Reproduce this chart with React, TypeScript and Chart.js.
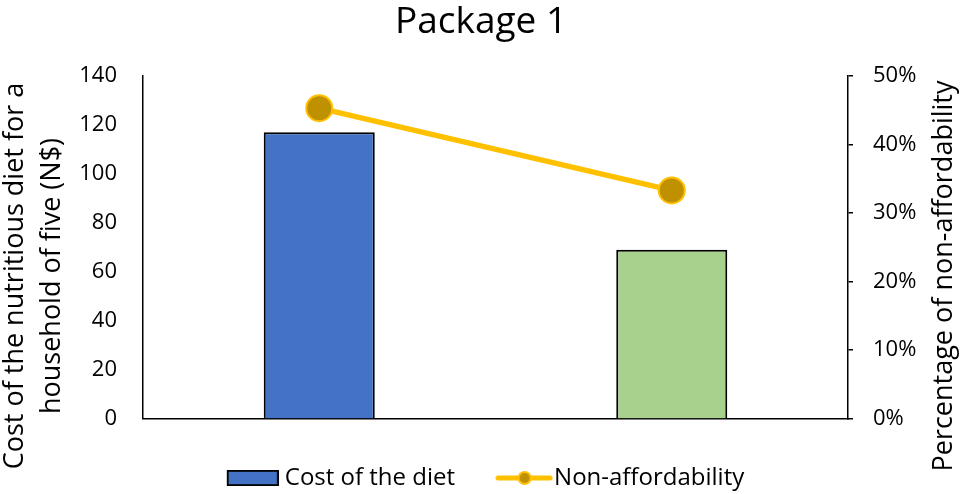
import React, { useEffect, useRef } from "react";
import { Chart, registerables } from "chart.js";

Chart.register(...registerables);

// Chart content
const TITLE = "Package 1";
const CATEGORIES = ["Diet A", "Diet B"];
const COST_LABEL = "Cost of the diet";
const COST_VALUES = [117, 69];
const COST_COLORS = ["#4472C4", "#A9D18E"];
const AFFORD_LABEL = "Non-affordability";
const AFFORD_PCT = [45.3, 33.3];
const COST_AXIS = { min: 0, max: 140, step: 20 };
const PCT_AXIS = { min: 0, max: 50, step: 10 };
const LEFT_TITLE = ["Cost of the nutritious diet for a", "household of five (N$)"];
const RIGHT_TITLE = "Percentage of non-affordability";

const FONT = '"Open Sans", "Noto Sans", sans-serif';
const LINE_COLOR = "#FFC000";
const MARKER_FILL = "#BF9000";

// Legend swatch for the bars: outlined blue block
function barIcon(): HTMLCanvasElement {
  const c = document.createElement("canvas");
  c.width = 58;
  c.height = 16;
  const g = c.getContext("2d")!;
  g.fillStyle = COST_COLORS[0];
  g.fillRect(7, 1, 50, 14);
  g.strokeStyle = "#000";
  g.lineWidth = 1.8;
  g.strokeRect(6.9, 0.9, 50.2, 14.2);
  return c;
}

// Legend swatch for the line: stroke with a marker in the middle
function lineIcon(): HTMLCanvasElement {
  const c = document.createElement("canvas");
  c.width = 70;
  c.height = 24;
  const g = c.getContext("2d")!;
  g.strokeStyle = LINE_COLOR;
  g.lineWidth = 5;
  g.lineCap = "round";
  g.beginPath();
  g.moveTo(14, 12);
  g.lineTo(66, 12);
  g.stroke();
  g.beginPath();
  g.arc(40.5, 12, 6, 0, Math.PI * 2);
  g.fillStyle = MARKER_FILL;
  g.fill();
  g.lineWidth = 2;
  g.strokeStyle = LINE_COLOR;
  g.stroke();
  return c;
}

// Rotated axis titles drawn beside the two value scales
const axisTitles = {
  id: "axisTitles",
  afterLayout(chart: any) {
    // nudge the legend row slightly to the right
    if (chart.legend) {
      chart.legend.left += 4.5;
      chart.legend.right += 4.5;
    }
  },
  afterDraw(chart: any) {
    const ctx = chart.ctx;
    const cy = 276;
    ctx.save();
    ctx.font = `27px ${FONT}`;
    ctx.fillStyle = "#000";
    ctx.textAlign = "center";
    ctx.textBaseline = "middle";
    const leftX = [15.5, 52.5];
    LEFT_TITLE.forEach((line, i) => {
      ctx.save();
      ctx.translate(leftX[i], cy);
      ctx.rotate(-Math.PI / 2);
      ctx.fillText(line, 0, 0);
      ctx.restore();
    });
    ctx.save();
    ctx.translate(944.5, cy);
    ctx.rotate(-Math.PI / 2);
    ctx.fillText(RIGHT_TITLE, 0, 0);
    ctx.restore();
    ctx.restore();
  },
};

export default function App() {
  const canvasRef = useRef<HTMLCanvasElement | null>(null);

  useEffect(() => {
    let chart: Chart | null = null;
    let cancelled = false;

    const build = () => {
      if (cancelled || !canvasRef.current) return;
      const icons = [barIcon(), lineIcon()];
      chart = new Chart(canvasRef.current, {
        type: "bar",
        data: {
          labels: CATEGORIES,
          datasets: [
            {
              type: "bar",
              label: COST_LABEL,
              data: COST_VALUES,
              backgroundColor: COST_COLORS,
              borderColor: "#000",
              borderWidth: 2,
              barPercentage: 0.315,
              categoryPercentage: 1,
              yAxisID: "y",
              order: 1,
            },
            {
              type: "line",
              label: AFFORD_LABEL,
              data: AFFORD_PCT,
              borderColor: LINE_COLOR,
              borderWidth: 5.5,
              pointRadius: 13,
              pointHoverRadius: 13,
              pointBackgroundColor: MARKER_FILL,
              pointBorderColor: LINE_COLOR,
              pointBorderWidth: 2,
              yAxisID: "y1",
              order: 0,
            },
          ] as any,
        },
        options: {
          animation: false,
          responsive: true,
          maintainAspectRatio: false,
          layout: { padding: 0 },
          font: { family: FONT },
          plugins: {
            tooltip: { enabled: false },
            title: {
              display: true,
              text: TITLE,
              color: "#000",
              font: { family: FONT, size: 37, weight: "normal" },
              padding: { top: 0, bottom: 31.6 },
            },
            legend: {
              display: true,
              position: "bottom",
              labels: {
                usePointStyle: true,
                pointStyleWidth: 46,
                padding: 41,
                color: "#000",
                font: { family: FONT, size: 24 },
                generateLabels: () =>
                  [COST_LABEL, AFFORD_LABEL].map((text, i) => ({
                    text,
                    pointStyle: icons[i],
                    fillStyle: "transparent",
                    strokeStyle: "transparent",
                    lineWidth: 0,
                    hidden: false,
                    datasetIndex: i,
                    fontColor: "#000",
                  })),
              },
            },
          },
          scales: {
            x: {
              type: "category",
              grid: { display: false },
              ticks: { display: false },
              border: { display: true, color: "#000", width: 1.5 },
              afterFit: (s: any) => {
                s.height = 6.5;
              },
            },
            y: {
              position: "left",
              min: COST_AXIS.min,
              max: COST_AXIS.max,
              ticks: {
                stepSize: COST_AXIS.step,
                color: "#000",
                padding: 26,
                font: { family: FONT, size: 22 },
              },
              grid: { display: false, drawTicks: false },
              border: { display: true, color: "#000", width: 1.5 },
              afterFit: (s: any) => {
                s.width = 143;
              },
            },
            y1: {
              position: "right",
              min: PCT_AXIS.min,
              max: PCT_AXIS.max,
              ticks: {
                stepSize: PCT_AXIS.step,
                color: "#000",
                padding: 20,
                font: { family: FONT, size: 22 },
                callback: (v: any) => `${v}%`,
              },
              grid: {
                display: true,
                drawOnChartArea: false,
                drawTicks: true,
                tickLength: 5,
                color: "#000",
                lineWidth: 1.5,
              },
              border: { display: true, color: "#000", width: 1.5 },
              afterFit: (s: any) => {
                s.width = 114;
              },
            },
          },
        } as any,
        plugins: [axisTitles],
      });
    };

    const fontsReady = (document as any).fonts
      ? Promise.all([
          (document as any).fonts.load(`24px "Open Sans"`),
          (document as any).fonts.load(`37px "Open Sans"`),
        ]).catch(() => null)
      : Promise.resolve(null);
    fontsReady.then(build);

    return () => {
      cancelled = true;
      if (chart) chart.destroy();
    };
  }, []);

  return (
    <div
      style={{
        position: "fixed",
        left: 0,
        top: 0,
        width: 962,
        height: 494,
        overflow: "hidden",
        background: "#fff",
      }}
    >
      <div style={{ position: "relative", width: 962, height: 500 }}>
        <canvas ref={canvasRef} />
      </div>
    </div>
  );
}
